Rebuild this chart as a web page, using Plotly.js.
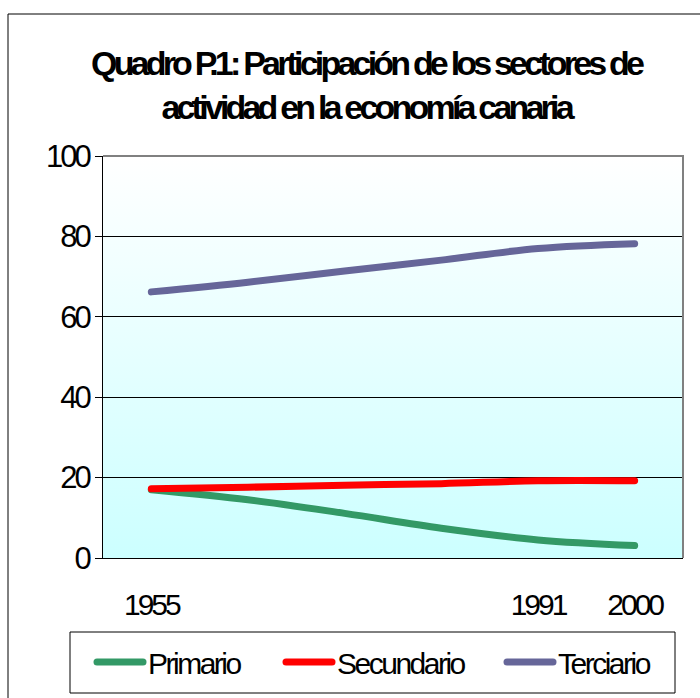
<!DOCTYPE html>
<html>
<head>
<meta charset="utf-8">
<script src="https://cdn.plot.ly/plotly-3.0.1.min.js"></script>
<style>
html,body{margin:0;padding:0;background:#fff;}
#chart{width:700px;height:698px;}
.gtitle{letter-spacing:-3.8px;}
.infolayer g[class*="legend"] text{letter-spacing:-2.5px !important;}
.xtick text,.ytick text{letter-spacing:-3px;}
.scatterlayer .js-line,.legendlines path{stroke-linecap:round;stroke-linejoin:round;}
</style>
</head>
<body>
<div id="chart"></div>
<script>
// Data
var tickLabels = ['1955', '', '', '', '1991', '2000'];
var seriesNames = ['Primario', 'Secundario', 'Terciario'];
var primario = [17, 14.5, 11.1, 7.4, 4.5, 3.1];
var secundario = [17.2, 17.6, 18.1, 18.5, 19.2, 19.2];
var terciario = [66.2, 68.6, 71.4, 74.1, 77.0, 78.2];
var seriesColors = ['#339966', '#FF0000', '#666699'];

var FONT = '"Liberation Sans", Arial, sans-serif';
var idx = tickLabels.map(function (_, i) { return i; });
var bounds = [];
for (var b = 0; b <= tickLabels.length; b++) bounds.push(b - 0.5);

var legendIds = ['legend', 'legend2', 'legend3'];
var traces = [primario, secundario, terciario].map(function (vals, k) {
  return {
    type: 'scatter', mode: 'lines', name: seriesNames[k],
    x: idx, y: vals, legend: legendIds[k],
    line: {color: seriesColors[k], width: 7, shape: 'spline', smoothing: 1},
    hoverinfo: 'skip'
  };
});

var svg = "<svg xmlns='http://www.w3.org/2000/svg' width='10' height='100' preserveAspectRatio='none'>" +
  "<defs><linearGradient id='g' x1='0' y1='0' x2='0' y2='1'>" +
  "<stop offset='0' stop-color='#FFFFFF'/><stop offset='1' stop-color='#CCFFFF'/>" +
  "</linearGradient></defs><rect width='10' height='100' fill='url(#g)'/></svg>";
var bgImg = 'data:image/svg+xml;charset=utf-8,' + encodeURIComponent(svg);

var W = 700, H = 698, L = 103, R = 17, T = 156, B = 140;
var pw = W - L - R, ph = H - T - B;
function px(x) { return (x - L) / pw; }
function py(y) { return (H - B - y) / ph; }

function legendAt(xpx) {
  return {
    orientation: 'h', xref: 'paper', yref: 'paper',
    x: px(xpx), xanchor: 'left', y: py(662), yanchor: 'middle',
    borderwidth: 0, bgcolor: 'rgba(0,0,0,0)',
    font: {family: FONT, size: 30, color: '#000000'},
    itemwidth: 46
  };
}

var layout = {
  width: W, height: H,
  margin: {l: L, r: R, t: T, b: B, pad: 0, autoexpand: false},
  paper_bgcolor: '#FFFFFF',
  plot_bgcolor: 'rgba(0,0,0,0)',
  font: {family: FONT, color: '#000000', size: 30},
  title: {
    text: 'Quadro P.1: Participación de los sectores de<br>actividad en la economía canaria',
    font: {family: FONT, size: 34, weight: 'bold', color: '#000000'},
    xref: 'container', x: 0.523, xanchor: 'center',
    yref: 'container', y: 1 - 75 / H, yanchor: 'middle'
  },
  xaxis: {
    range: [-0.5, tickLabels.length - 0.5], fixedrange: true,
    tickmode: 'array', tickvals: idx, ticktext: tickLabels,
    ticks: '', showgrid: false, zeroline: false,
    showline: true, linecolor: '#000000', linewidth: 1,
    tickfont: {family: FONT, size: 30, color: '#000000'},
    ticklabelstandoff: 20
  },
  xaxis2: {
    overlaying: 'x', matches: 'x', anchor: 'y', side: 'bottom',
    range: [-0.5, tickLabels.length - 0.5],
    tickmode: 'array', tickvals: bounds, ticks: 'outside', ticklen: 9,
    tickcolor: '#000000', tickwidth: 1, showticklabels: false,
    showgrid: false, zeroline: false, showline: false
  },
  yaxis: {
    range: [0, 100], fixedrange: true,
    tickmode: 'array', tickvals: [0, 20, 40, 60, 80, 100],
    ticks: 'outside', ticklen: 7, tickcolor: '#000000', tickwidth: 1,
    showgrid: true, gridcolor: '#000000', gridwidth: 1,
    zeroline: false, showline: true, linecolor: '#000000', linewidth: 1,
    tickfont: {family: FONT, size: 31, color: '#000000'}
  },
  images: [{
    source: bgImg, xref: 'paper', yref: 'paper', x: 0, y: 1,
    sizex: 1, sizey: 1, sizing: 'stretch', xanchor: 'left', yanchor: 'top', layer: 'below'
  }],
  shapes: [
    {type: 'path', xref: 'paper', yref: 'paper', path: 'M 0 1 L 1 1 L 1 0',
     line: {color: '#808080', width: 2}, layer: 'above'},
    {type: 'rect', xref: 'paper', yref: 'paper',
     x0: px(8), x1: px(702), y0: py(702), y1: py(14),
     line: {color: '#000000', width: 1}, fillcolor: 'rgba(0,0,0,0)', layer: 'above'},
    {type: 'rect', xref: 'paper', yref: 'paper',
     x0: px(70), x1: px(675), y0: py(693), y1: py(632),
     line: {color: '#000000', width: 1}, fillcolor: 'rgba(0,0,0,0)', layer: 'above'}
  ],
  showlegend: true,
  legend: legendAt(92),
  legend2: legendAt(281),
  legend3: legendAt(502)
};

Plotly.newPlot('chart', traces, layout, {displayModeBar: false, staticPlot: true});
</script>
</body>
</html>
